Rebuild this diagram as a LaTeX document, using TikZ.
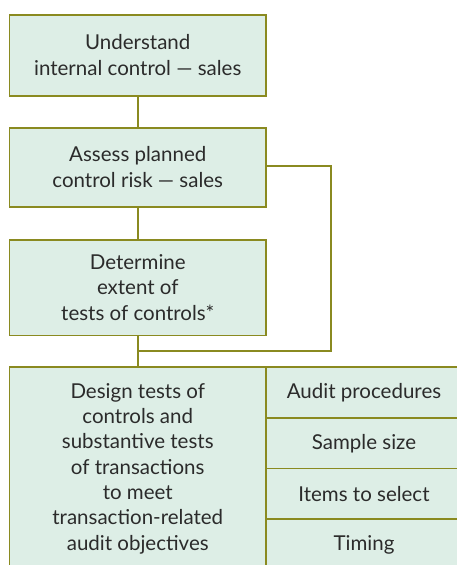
\documentclass[tikz,border=0pt]{standalone}
\usepackage{fontspec}
\setmainfont{Lato}
\definecolor{boxfill}{HTML}{DDEEE6}
\definecolor{boxline}{HTML}{8A8A20}
\definecolor{boxtext}{HTML}{2B2B2B}
\begin{document}
\begin{tikzpicture}[
  x=1pt, y=-1pt,
  stepbox/.style={rectangle, fill=boxfill, draw=boxline, line width=1.6pt, align=center, inner sep=0pt,
    text=boxtext, minimum width=256.5pt, font=\fontsize{20.5}{26}\selectfont},
  itembox/.style={rectangle, fill=boxfill, draw=boxline, line width=1.6pt, inner sep=0pt,
    text=boxtext, minimum width=196pt, minimum height=51pt, font=\fontsize{20.5}{26}\selectfont},
  link/.style={draw=boxline, line width=1.6pt}
]
  \useasboundingbox (0,0) rectangle (457,565);

  % Cajas principales
  \node[stepbox, minimum height=81pt] (understand) at (137.75, 55.5)
    {Understand\\internal control \textemdash\ sales};
  \node[stepbox, minimum height=79pt] (assess) at (137.75, 167.5)
    {Assess planned\\control risk \textemdash\ sales};
  \node[stepbox, minimum height=95.6pt, font=\fontsize{20.5}{25.3}\selectfont] (extent) at (137.75, 287.5)
    {Determine\\extent of\\tests of controls*};
  \node[stepbox, minimum height=203pt, font=\fontsize{20.5}{25.3}\selectfont] (design) at (137.75, 468.5)
    {Design tests of\\controls and\\substantive tests\\of transactions\\to meet\\transaction-related\\audit objectives};

  % Columna derecha
  \node[itembox] (procedures) at (364, 392.5) {Audit procedures};
  \node[itembox] (size) at (364, 443.5) {Sample size};
  \node[itembox] (items) at (364, 494) {Items to select};
  \node[itembox] (timing) at (364, 544.5) {Timing};

  % Punto de unión y esquinas del lazo lateral
  \coordinate (join) at (137.75, 351);
  \coordinate (loopTop) at (331, 166);
  \coordinate (loopBot) at (331, 351);

  % Conectores
  \draw[link] (understand) -- (assess);
  \draw[link] (assess) -- (extent);
  \draw[link] (extent) -- (design);
  \draw[link] (assess.east |- loopTop) -- (loopTop) -- (loopBot) -- (join);

\end{tikzpicture}
\end{document}
